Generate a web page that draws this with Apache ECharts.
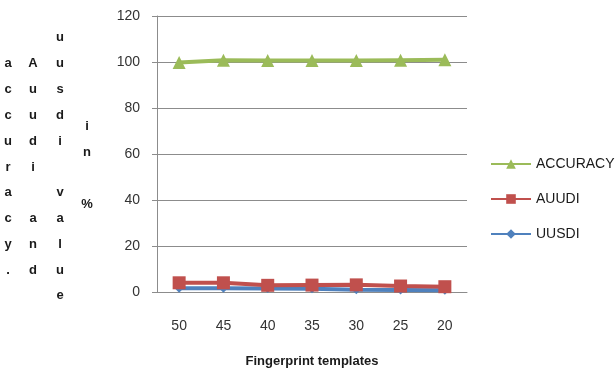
<!DOCTYPE html>
<html>
<head>
<meta charset="utf-8">
<script src="https://cdn.jsdelivr.net/npm/echarts@6/dist/echarts.min.js"></script>
<style>html,body{margin:0;padding:0;background:#fff}#c{width:616px;height:373px}</style>
</head>
<body>
<div id="c"></div>
<script>
var categories = ['50', '45', '40', '35', '30', '25', '20'];
var accuracy = [99.8, 100.8, 100.6, 100.6, 100.6, 100.8, 101];
var auudi = [4.0, 4.0, 2.9, 3.0, 3.1, 2.6, 2.3];
var uusdi = [1.6, 1.6, 1.5, 1.4, 1.0, 0.9, 0.8];
var yLabelColumns = ['accuracy.', 'Auudi and', 'uusdi value', 'in %'];

var chart = echarts.init(document.getElementById('c'));
var colX = [8, 33, 60, 87];
var colTop = [51, 51, 25, 114];
var graphics = yLabelColumns.map(function (s, i) {
  return {
    type: 'text', x: colX[i], y: colTop[i],
    style: {
      text: s.split('').map(function (ch) { return ch === ' ' ? '' : ch; }).join('\n'),
      font: 'bold 13px "Liberation Sans", sans-serif',
      fill: '#1a1a1a', textAlign: 'center', lineHeight: 25.8
    }
  };
});

var axisColor = '#8c8c8c';
chart.setOption({
  animation: false,
  grid: { left: 157, right: 149, top: 16, bottom: 77 },
  legend: {
    orient: 'vertical', left: 485, top: 152, itemWidth: 40, itemHeight: 12, itemGap: 21,
    textStyle: { fontSize: 14, color: '#1a1a1a', fontFamily: 'Liberation Sans' },
    data: ['ACCURACY', 'AUUDI', 'UUSDI']
  },
  xAxis: {
    type: 'category', data: categories,
    name: 'Fingerprint templates', nameLocation: 'middle', nameGap: 63,
    nameTextStyle: { fontWeight: 'bold', fontSize: 13, color: '#1a1a1a', fontFamily: 'Liberation Sans' },
    axisLine: { lineStyle: { color: axisColor, width: 1 } },
    axisTick: { length: 6, lineStyle: { color: axisColor } },
    axisLabel: { margin: 27, fontSize: 14, color: '#333', fontFamily: 'Liberation Sans' }
  },
  yAxis: {
    type: 'value', min: 0, max: 120, interval: 20,
    axisLine: { show: true, lineStyle: { color: axisColor, width: 1 } },
    axisTick: { show: true, length: 5, lineStyle: { color: axisColor } },
    splitLine: { lineStyle: { color: axisColor } },
    axisLabel: { margin: 17, fontSize: 14, color: '#333', fontFamily: 'Liberation Sans' }
  },
  graphic: graphics,
  series: [
    { name: 'UUSDI', type: 'line', data: uusdi, symbol: 'diamond', symbolSize: 9,
      itemStyle: { color: '#4F81BD' }, lineStyle: { width: 4, color: '#4F81BD' } },
    { name: 'AUUDI', type: 'line', data: auudi, symbol: 'rect', symbolSize: 13,
      itemStyle: { color: '#C0504D' }, lineStyle: { width: 4, color: '#C0504D' } },
    { name: 'ACCURACY', type: 'line', data: accuracy, symbol: 'triangle', symbolSize: 13,
      itemStyle: { color: '#9BBB59' }, lineStyle: { width: 4, color: '#9BBB59' } }
  ]
});
</script>
</body>
</html>
